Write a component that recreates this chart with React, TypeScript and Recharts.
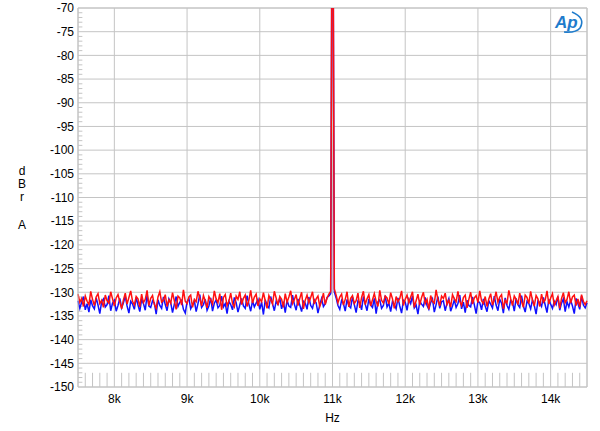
import { LineChart, Line, XAxis, YAxis, CartesianGrid, ReferenceLine } from "recharts"

// analyzer bins: 7.5 kHz to 14.5 kHz, 25 Hz apart
const FREQ_START = 7500
const FREQ_STEP = 25

// channel levels in dBrA (index 140 = 11 kHz tone, off the top)
const blueLevels = [
  -131.8, -133.4, -132.1, -130.9, -133.7, -132.4, -134.2, -131.6, -132.9, -133.5,
  -131.2, -132.7, -134.5, -132.0, -131.4, -133.1, -132.6, -130.7, -133.9, -132.3,
  -131.7, -134.0, -132.8, -131.3, -133.3, -132.2, -130.8, -132.9, -134.4, -131.9,
  -132.5, -133.6, -131.1, -132.7, -134.1, -131.5, -132.4, -133.8, -130.6, -132.9,
  -133.2, -131.8, -132.3, -134.6, -131.6, -132.8, -133.4, -131.0, -132.6, -133.9,
  -131.4, -132.2, -134.3, -132.5, -130.9, -133.0, -132.1, -131.7, -133.6, -134.4,
  -132.0, -131.3, -133.5, -132.7, -131.8, -134.1, -132.4, -130.5, -133.2, -132.6,
  -131.5, -133.8, -132.9, -131.2, -134.0, -132.3, -131.6, -133.3, -132.8, -130.8,
  -133.1, -132.4, -134.5, -131.9, -132.6, -133.7, -131.1, -132.2, -134.2, -132.7,
  -131.3, -132.9, -133.4, -130.7, -132.5, -134.0, -131.8, -133.1, -132.3, -131.5,
  -133.6, -132.1, -134.7, -131.6, -132.8, -133.3, -130.9, -132.4, -133.9, -131.9,
  -132.6, -131.2, -133.5, -132.0, -134.3, -131.7, -132.9, -133.2, -130.6, -132.5,
  -133.8, -131.4, -132.7, -134.1, -131.9, -132.3, -133.6, -131.0, -132.8, -133.4,
  -131.6, -132.2, -134.4, -132.6, -131.3, -133.0, -132.4, -131.1, -130.8, -130.3,
  -18,
  -129.9, -131.2, -132.8, -133.6, -131.7, -132.4, -134.0, -131.5, -132.9, -133.3,
  -131.0, -132.6, -134.3, -131.8, -132.2, -133.7, -130.9, -132.5, -133.9, -131.4,
  -132.7, -133.2, -131.3, -134.5, -132.0, -131.6, -133.4, -132.8, -130.7, -133.1,
  -132.3, -134.1, -131.9, -132.6, -133.5, -131.2, -132.9, -134.4, -131.7, -132.1,
  -133.8, -131.5, -132.4, -130.8, -133.3, -132.7, -134.6, -131.9, -132.5, -133.0,
  -131.1, -132.8, -133.6, -132.2, -131.4, -134.2, -132.6, -130.9, -133.4, -132.0,
  -131.8, -133.9, -132.3, -131.3, -134.0, -132.9, -131.6, -133.2, -132.4, -130.6,
  -133.5, -132.1, -134.3, -131.7, -132.8, -133.1, -131.0, -132.6, -134.5, -131.9,
  -132.2, -133.7, -131.4, -132.9, -134.1, -131.8, -132.5, -133.3, -130.8, -132.7,
  -133.9, -131.5, -132.3, -134.4, -131.2, -132.8, -133.6, -131.7, -132.1, -134.0,
  -131.3, -132.6, -133.2, -130.7, -132.9, -134.2, -131.9, -132.4, -133.5, -131.6,
  -132.8, -134.6, -131.8, -132.2, -133.0, -131.1, -132.7, -134.3, -131.5, -132.5,
  -133.4, -131.9, -132.6, -130.9, -133.8, -132.3, -131.4, -134.1, -132.0, -133.1,
  -131.7, -132.9, -134.5, -131.3, -132.4, -133.6, -130.8, -132.7, -133.3, -132.2,
]

const redLevels = [
  -130.4, -132.1, -131.3, -133.0, -130.8, -131.9, -132.6, -129.8, -131.5, -132.8,
  -131.0, -130.3, -132.4, -131.7, -133.2, -130.6, -131.8, -132.3, -129.9, -131.4,
  -132.9, -131.2, -130.5, -132.0, -133.5, -131.6, -130.2, -132.5, -131.1, -129.7,
  -131.9, -132.7, -130.9, -131.4, -133.1, -130.4, -132.2, -131.5, -129.6, -132.8,
  -131.3, -130.7, -132.6, -133.4, -131.0, -129.9, -132.1, -131.7, -130.5, -133.0,
  -131.6, -132.3, -130.1, -131.8, -133.6, -130.8, -131.2, -132.7, -129.5, -131.9,
  -132.4, -131.0, -130.6, -133.2, -131.5, -132.0, -129.8, -131.3, -132.9, -130.7,
  -131.8, -133.3, -130.9, -131.6, -132.5, -129.7, -131.4, -132.2, -130.3, -133.7,
  -131.1, -130.5, -132.8, -131.9, -130.2, -132.4, -133.1, -130.8, -131.5, -129.9,
  -132.6, -131.3, -130.6, -133.0, -131.7, -129.6, -132.3, -131.0, -130.4, -132.9,
  -131.4, -132.0, -130.1, -131.8, -133.4, -130.7, -131.6, -132.5, -129.8, -131.2,
  -132.7, -130.9, -131.5, -133.2, -130.3, -132.1, -131.0, -129.7, -132.4, -131.6,
  -130.5, -132.8, -131.3, -130.0, -133.5, -131.7, -130.6, -132.2, -131.1, -129.9,
  -132.5, -131.4, -130.8, -133.0, -131.9, -130.2, -132.6, -131.2, -130.4, -129.8,
  -17,
  -129.3, -130.6, -132.2, -131.0, -130.4, -132.7, -131.5, -129.9, -133.1, -131.3,
  -130.7, -132.4, -131.8, -130.2, -133.3, -131.1, -129.8, -132.6, -131.4, -130.5,
  -132.9, -131.6, -130.3, -131.9, -133.0, -129.6, -131.7, -132.3, -130.8, -131.2,
  -132.5, -130.1, -131.4, -133.4, -130.9, -132.0, -131.3, -129.7, -132.8, -131.5,
  -130.6, -132.2, -131.0, -129.9, -133.2, -131.8, -130.4, -132.7, -131.1, -130.0,
  -132.4, -131.5, -133.6, -130.7, -131.9, -132.3, -129.5, -131.6, -132.9, -130.8,
  -131.3, -130.2, -132.6, -131.7, -133.1, -130.5, -131.4, -132.0, -129.8, -131.9,
  -132.8, -131.1, -130.6, -133.3, -131.5, -130.0, -132.5, -131.2, -130.7, -132.2,
  -129.7, -131.8, -132.4, -130.9, -133.0, -131.4, -130.3, -132.7, -131.6, -129.9,
  -132.1, -131.0, -130.5, -133.5, -131.7, -132.3, -129.6, -131.3, -132.8, -130.8,
  -131.5, -132.6, -130.2, -131.9, -133.2, -130.6, -131.1, -132.4, -129.8, -131.7,
  -132.9, -130.7, -131.4, -133.0, -130.4, -132.1, -131.6, -129.7, -132.5, -131.2,
  -130.3, -132.7, -131.8, -130.9, -133.4, -131.3, -130.1, -132.2, -131.5, -129.9,
  -132.3, -131.0, -130.6, -132.8, -131.4, -133.1, -130.5, -131.9, -132.6, -131.8,
]

const xTicks = [8000, 9000, 10000, 11000, 12000, 13000, 14000]
const yTicks = [-150, -145, -140, -135, -130, -125, -120, -115, -110, -105, -100, -95, -90, -85, -80, -75, -70]

// small ticks: every 100 Hz along the bottom, every 1 dB up the left side
const xMinor = Array.from({ length: 69 }, (_, i) => 7600 + i * 100).filter((f) => f % 1000 !== 0)
const yMinor = Array.from({ length: 79 }, (_, i) => -149 + i).filter((v) => v % 5 !== 0)

const data = blueLevels.map((b, i) => ({
  hz: FREQ_START + i * FREQ_STEP,
  blue: b,
  red: redLevels[i],
}))

const GRID = "#c4c4c4"
const FONT = "'Liberation Sans', Arial, sans-serif"

export default function App() {
  return (
    <div style={{ position: "absolute", left: 0, top: 0, width: 600, height: 431, background: "#fff", fontFamily: FONT }}>
      <LineChart width={600} height={431} data={data} margin={{ top: 8, right: 13, bottom: 0, left: 0 }}>
        <CartesianGrid stroke={GRID} vertical horizontal />
        <XAxis
          dataKey="hz"
          type="number"
          domain={[7500, 14500]}
          ticks={xTicks}
          interval={0}
          height={44}
          tickSize={0}
          tickMargin={7}
          axisLine={{ stroke: GRID }}
          tick={{ fill: "#000", fontSize: 12, fontFamily: FONT }}
          tickFormatter={(v) => `${v / 1000}k`}
          label={{ value: "Hz", position: "insideBottom", offset: 9, fill: "#000", fontSize: 12, fontFamily: FONT }}
        />
        <YAxis
          type="number"
          domain={[-150, -70]}
          allowDataOverflow
          ticks={yTicks}
          interval={0}
          width={78}
          tickSize={0}
          tickMargin={4}
          axisLine={{ stroke: GRID }}
          tick={{ fill: "#000", fontSize: 12, fontFamily: FONT }}
        />
        <ReferenceLine x={14500} stroke={GRID} />
        <ReferenceLine y={-70} stroke={GRID} />
        {xMinor.map((f) => (
          <ReferenceLine key={`xm${f}`} segment={[{ x: f, y: -150 }, { x: f, y: -147 }]} stroke={GRID} />
        ))}
        {yMinor.map((v) => (
          <ReferenceLine key={`ym${v}`} segment={[{ x: 7500, y: v }, { x: 7560, y: v }]} stroke={GRID} />
        ))}
        <Line type="linear" dataKey="blue" stroke="#1010ff" strokeWidth={1.5} dot={false} isAnimationActive={false} />
        <Line type="linear" dataKey="red" stroke="#ff1010" strokeWidth={1.5} dot={false} isAnimationActive={false} />
      </LineChart>

      {/* y-axis unit, stacked */}
      {[
        { ch: "d", y: 171 },
        { ch: "B", y: 184 },
        { ch: "r", y: 197 },
        { ch: "A", y: 225 },
      ].map((l) => (
        <div
          key={l.ch}
          style={{ position: "absolute", left: 16, width: 12, top: l.y - 7, fontSize: 12, lineHeight: "14px", textAlign: "center", color: "#000" }}
        >
          {l.ch}
        </div>
      ))}

      {/* Ap logo */}
      <svg style={{ position: "absolute", left: 550, top: 8 }} width={36} height={28}>
        <text x={5} y={20} fontSize={17} fontStyle="italic" fontWeight="bold" fill="#1f7ccc" fontFamily={FONT}>
          Ap
        </text>
        <path d="M 22 4 Q 36 10 30 20 Q 26 25 14 24" fill="none" stroke="#1f7ccc" strokeWidth={1.6} />
      </svg>
    </div>
  )
}
